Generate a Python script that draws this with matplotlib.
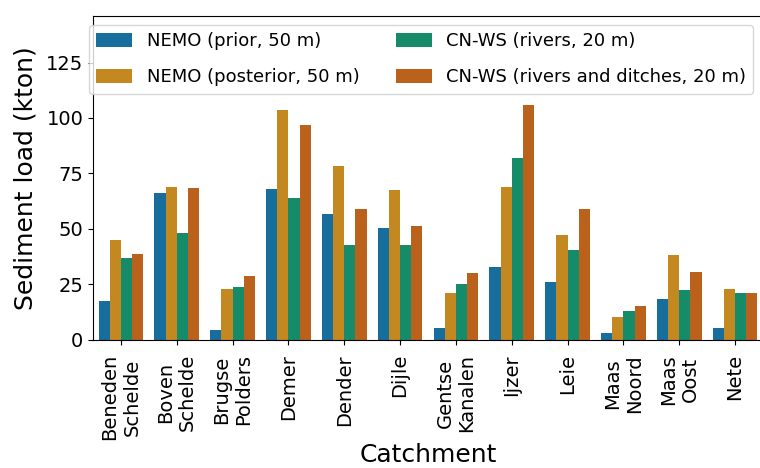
import numpy as np
import pandas as pd
import matplotlib
matplotlib.use('Agg')
import matplotlib.pyplot as plt
import seaborn as sns

# Sediment load per catchment (kton)
catchments = ['Beneden\nSchelde', 'Boven\nSchelde', 'Brugse\nPolders', 'Demer',
              'Dender', 'Dijle', 'Gentse\nKanalen', 'Ijzer', 'Leie',
              'Maas\nNoord', 'Maas\nOost', 'Nete']
nemo_prior = [17.5, 66, 4.5, 68, 56.5, 50.5, 5, 32.5, 26, 3, 18.5, 5]
nemo_posterior = [45, 69, 23, 103.5, 78.5, 67.5, 21, 69, 47, 10, 38, 23]
cnws_rivers = [37, 48, 23.5, 64, 42.5, 42.5, 25, 82, 40.5, 13, 22.5, 21]
cnws_ditches = [38.5, 68.5, 28.5, 97, 59, 51, 30, 106, 59, 15, 30.5, 21]

series = ['NEMO (prior, 50 m)', 'NEMO (posterior, 50 m)',
          'CN-WS (rivers, 20 m)', 'CN-WS (rivers and ditches, 20 m)']
values = [nemo_prior, nemo_posterior, cnws_rivers, cnws_ditches]

# long form table for seaborn
df = pd.DataFrame({
    'Catchment': np.tile(catchments, len(series)),
    'model': np.repeat(series, len(catchments)),
    'load': np.concatenate(values),
})

fig = plt.figure(figsize=(7.6, 4.68), dpi=100)
ax = fig.add_axes([93 / 760, 1 - 339.5 / 468, 670 / 760, 323.5 / 468])

sns.barplot(data=df, x='Catchment', y='load', hue='model', hue_order=series,
            palette='colorblind', errorbar=None, ax=ax, legend=False)

ax.set_ylim(0, 146)
ax.set_xlim(-0.5, len(catchments) - 0.5)
ax.set_yticks([0, 25, 50, 75, 100, 125])
ax.set_ylabel('Sediment load (kton)', fontsize=18, labelpad=6)
ax.set_xlabel('Catchment', fontsize=18, labelpad=2)
ax.tick_params(axis='both', labelsize=14)
ax.tick_params(axis='x', pad=7)
ax.set_xticks(range(len(catchments)))
ax.set_xticklabels(catchments, rotation=90)

handles = [p for p in ax.patches[::len(catchments)]][:len(series)]
fig.legend(handles, series, ncol=2, loc='upper left', fontsize=13,
           bbox_to_anchor=(89 / 760, 1 - 25 / 468), borderaxespad=0,
           labelspacing=1.0, handleheight=0.8)

fig.savefig('out.png', dpi=100)
